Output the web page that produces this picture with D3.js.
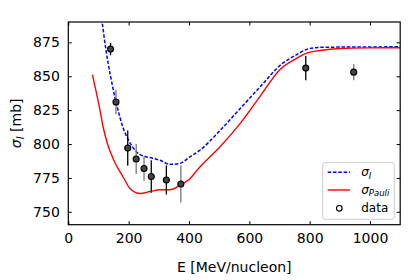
<!DOCTYPE html>
<html>
<head>
<meta charset="utf-8">
<script src="https://cdn.jsdelivr.net/npm/d3@7"></script>
<style>
  body { margin: 0; background: #fff; }
  text { font-family: 'DejaVu Sans', sans-serif; }
</style>
</head>
<body>
<script>
let w = 415;
let h = 280;
let margin = { left: 68.3, right: 14.8, top: 22, bottom: 55.3 };

// sigma_I (dashed blue)
let sigIE = [100, 112, 125, 140, 155, 166, 180, 197, 227, 250, 271, 304, 337, 370, 403, 437, 503, 569, 635, 702, 757, 790, 834, 900, 1000, 1100];
let sigIV = [908, 890, 869, 850, 834, 824, 813, 804, 794, 791, 790, 788, 785, 785.7, 790.6, 795.6, 810, 826, 842, 858, 866, 869.8, 871.3, 871.5, 871.6, 871.7];

// sigma_Pauli (solid red)
let pauliE = [80, 105, 116, 130, 149, 182, 205, 238, 271, 304, 337, 370, 403, 431, 503, 569, 635, 702, 751, 790, 834, 900, 1000, 1100];
let pauliV = [851, 825, 812, 800, 789, 775.5, 767, 763.5, 765, 766.3, 766.3, 769.5, 774.4, 781.8, 798, 815, 835, 855, 862.5, 867, 869, 870.5, 870.9, 871];

// measured data
let dataE = [140, 158, 197, 225, 251, 275, 325, 373, 787, 946];
let dataV = [870, 831, 797, 789, 782, 776, 773.5, 770.5, 856, 853];
let dataErr = [4.5, 9, 13, 11, 9, 12, 10.7, 13.7, 9, 6];
let dataSet = ['a', 'b', 'a', 'b', 'b', 'a', 'a', 'b', 'a', 'b'];

let xTicks = [0, 200, 400, 600, 800, 1000];
let yTicks = [750, 775, 800, 825, 850, 875];

let xScale = d3.scaleLinear().domain([0, 1100]).range([margin.left, w - margin.right]);
let yScale = d3.scaleLinear().domain([740.5, 890]).range([h - margin.bottom, margin.top]);

let svg = d3.select('body')
  .append('svg')
  .attr('width', w)
  .attr('height', h);

svg.append('clipPath')
  .attr('id', 'clip')
  .append('rect')
  .attr('x', margin.left)
  .attr('y', margin.top)
  .attr('width', w - margin.left - margin.right)
  .attr('height', h - margin.top - margin.bottom);

let plot = svg.append('g').attr('clip-path', 'url(#clip)');

let line = d3.line()
  .x((d) => { return xScale(d[0]); })
  .y((d) => { return yScale(d[1]); })
  .curve(d3.curveMonotoneX);

plot.append('path')
  .datum(sigIE.map((e, i) => { return [e, sigIV[i]]; }))
  .attr('d', line)
  .attr('fill', 'none')
  .attr('stroke', '#0000ff')
  .attr('stroke-width', 1.5)
  .attr('stroke-dasharray', '3.5,1.8');

plot.append('path')
  .datum(pauliE.map((e, i) => { return [e, pauliV[i]]; }))
  .attr('d', line)
  .attr('fill', 'none')
  .attr('stroke', '#ff0000')
  .attr('stroke-width', 1.4);

let barColor = { a: '#000', b: '#777' };
let pts = dataE.map((e, i) => { return { e: e, v: dataV[i], err: dataErr[i], set: dataSet[i] }; });

plot.selectAll('line.err')
  .data(pts)
  .enter()
  .append('line')
  .attr('class', 'err')
  .attr('x1', (d) => { return xScale(d.e); })
  .attr('x2', (d) => { return xScale(d.e); })
  .attr('y1', (d) => { return yScale(d.v - d.err); })
  .attr('y2', (d) => { return yScale(d.v + d.err); })
  .attr('stroke', (d) => { return barColor[d.set]; })
  .attr('stroke-width', 1.3);

plot.selectAll('circle.pt')
  .data(pts)
  .enter()
  .append('circle')
  .attr('class', 'pt')
  .attr('cx', (d) => { return xScale(d.e); })
  .attr('cy', (d) => { return yScale(d.v); })
  .attr('r', 3)
  .attr('fill', '#444')
  .attr('stroke', '#000')
  .attr('stroke-width', 1.1);

// axes, ticks pointing inward on all four sides
let tickLen = 3.5;
let xAxis = d3.axisBottom(xScale).tickValues(xTicks).tickFormat(d3.format('d'))
  .tickSizeInner(-tickLen).tickSizeOuter(0).tickPadding(tickLen + 5);
let yAxis = d3.axisLeft(yScale).tickValues(yTicks).tickFormat(d3.format('d'))
  .tickSizeInner(-tickLen).tickSizeOuter(0).tickPadding(tickLen + 5);

svg.append('g')
  .attr('transform', 'translate(0,' + (h - margin.bottom) + ')')
  .call(xAxis);
svg.append('g')
  .attr('transform', 'translate(' + margin.left + ',0)')
  .call(yAxis);
svg.append('g')
  .attr('transform', 'translate(0,' + margin.top + ')')
  .call(d3.axisTop(xScale).tickValues(xTicks).tickSizeInner(-tickLen).tickSizeOuter(0).tickFormat(''));
svg.append('g')
  .attr('transform', 'translate(' + (w - margin.right) + ',0)')
  .call(d3.axisRight(yScale).tickValues(yTicks).tickSizeInner(-tickLen).tickSizeOuter(0).tickFormat(''));

svg.selectAll('.tick text')
  .attr('font-size', '14px')
  .attr('font-family', "'DejaVu Sans', sans-serif")
  .attr('fill', '#000');
svg.selectAll('.domain').remove();
svg.selectAll('.tick line').attr('stroke', '#000').attr('stroke-width', 1);

svg.append('rect')
  .attr('x', margin.left)
  .attr('y', margin.top)
  .attr('width', w - margin.left - margin.right)
  .attr('height', h - margin.top - margin.bottom)
  .attr('fill', 'none')
  .attr('stroke', '#000')
  .attr('stroke-width', 1.2);

// axis titles
svg.append('text')
  .attr('x', (margin.left + w - margin.right) / 2)
  .attr('y', 272)
  .attr('text-anchor', 'middle')
  .attr('font-size', '14px')
  .text('E [MeV/nucleon]');

let yl = svg.append('text')
  .attr('transform', 'translate(20.5,' + (margin.top + (h - margin.top - margin.bottom) / 2) + ') rotate(-90)')
  .attr('text-anchor', 'middle')
  .attr('font-size', '14px');
yl.append('tspan').attr('font-style', 'italic').text('σ');
yl.append('tspan').attr('font-style', 'italic').attr('font-size', '10px').attr('dy', 3).text('I');
yl.append('tspan').attr('dy', -3).text(' [mb]');

// legend
let lg = svg.append('g').attr('transform', 'translate(322.7,162.7)');
lg.append('rect')
  .attr('width', 71.6)
  .attr('height', 56.6)
  .attr('rx', 2.5)
  .attr('fill', '#fff')
  .attr('fill-opacity', 0.8)
  .attr('stroke', '#ccc')
  .attr('stroke-width', 1);

lg.append('line')
  .attr('x1', 5).attr('x2', 27.3).attr('y1', 9.6).attr('y2', 9.6)
  .attr('stroke', '#0000ff').attr('stroke-width', 1.5).attr('stroke-dasharray', '3.5,1.8');
lg.append('line')
  .attr('x1', 5).attr('x2', 27.3).attr('y1', 27.3).attr('y2', 27.3)
  .attr('stroke', '#ff0000').attr('stroke-width', 1.4);
lg.append('circle')
  .attr('cx', 16.6).attr('cy', 45.6).attr('r', 2.8)
  .attr('fill', 'none').attr('stroke', '#000').attr('stroke-width', 1.2);

let t1 = lg.append('text').attr('x', 38.5).attr('y', 13.5).attr('font-size', '12px');
t1.append('tspan').attr('font-style', 'italic').text('σ');
t1.append('tspan').attr('font-style', 'italic').attr('font-size', '8.5px').attr('dy', 2.5).text('I');

let t2 = lg.append('text').attr('x', 38.5).attr('y', 31.3).attr('font-size', '12px');
t2.append('tspan').attr('font-style', 'italic').text('σ');
t2.append('tspan').attr('font-style', 'italic').attr('font-size', '8.5px').attr('dy', 2.5).text('Pauli');

lg.append('text').attr('x', 38.5).attr('y', 49.6).attr('font-size', '12px').text('data');
</script>
</body>
</html>
